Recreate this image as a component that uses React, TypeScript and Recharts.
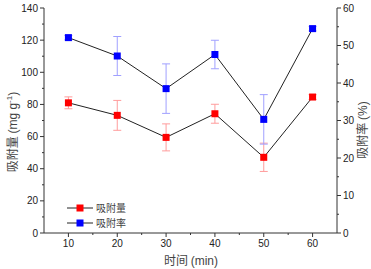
import { ComposedChart, Line, XAxis, YAxis, ErrorBar, Legend, Label } from 'recharts'

const times = [10, 20, 30, 40, 50, 60]
const capacity = [81, 73.2, 59.5, 74.2, 47.1, 84.6]
const capacityErr = [3.7, 9.3, 8.4, 5.9, 8.8, 1.5]
const rate = [52.1, 47.2, 38.5, 47.6, 30.3, 54.5]
const rateErr = [0.6, 5.2, 6.6, 3.8, 6.6, 0.6]

const xTicks = [15, 10, 20, 25, 30, 35, 40, 45, 50, 55, 60]
const leftTicks = [0, 10, 20, 30, 40, 50, 60, 70, 80, 90, 100, 110, 120, 130, 140]
const rightTicks = [0, 5, 10, 15, 20, 25, 30, 35, 40, 45, 50, 55, 60]

const data = times.map((t, i) => ({
  t,
  capacity: capacity[i],
  capacityErr: capacityErr[i],
  rate: rate[i],
  rateErr: rateErr[i],
}))

const AXIS = '#333'
const NUM_FONT = '"Liberation Sans", Arial, sans-serif'
const CJK_FONT = '"Noto Sans CJK SC", "Liberation Sans", sans-serif'

const XTick = (props: any) => {
  const { x, y, payload } = props
  const major = payload.value % 10 === 0
  return (
    <g>
      <line x1={x} x2={x} y1={y} y2={y + (major ? 4 : 2)} stroke={AXIS} />
      {major && (
        <text x={x} y={y + 14} textAnchor="middle" fontSize={10} fill="#222" fontFamily={NUM_FONT}>
          {payload.value}
        </text>
      )}
    </g>
  )
}

const LeftTick = (props: any) => {
  const { x, y, payload } = props
  const major = payload.value % 20 === 0
  return (
    <g>
      <line x1={x - (major ? 4 : 2)} x2={x} y1={y} y2={y} stroke={AXIS} />
      {major && (
        <text x={x - 6} y={y + 3.5} textAnchor="end" fontSize={10} fill="#222" fontFamily={NUM_FONT}>
          {payload.value}
        </text>
      )}
    </g>
  )
}

const RightTick = (props: any) => {
  const { x, y, payload } = props
  const major = payload.value % 10 === 0
  return (
    <g>
      <line x1={x} x2={x + (major ? 4 : 2)} y1={y} y2={y} stroke={AXIS} />
      {major && (
        <text x={x + 6} y={y + 3.5} textAnchor="start" fontSize={10} fill="#222" fontFamily={NUM_FONT}>
          {payload.value}
        </text>
      )}
    </g>
  )
}

const squareDot = (color: string) => (p: any) => (
  <rect key={p.index} x={p.cx - 3.5} y={p.cy - 3.5} width={7} height={7} fill={color} />
)

// legend rows sit at about y=208 and y=223 in the page
const LegendBox = () => (
  <svg width={80} height={32}>
    <line x1={7} x2={33} y1={8} y2={8} stroke="#222" />
    <rect x={16.5} y={4.5} width={7} height={7} fill="#ff0000" />
    <text x={36} y={11.5} fontSize={10} fill="#444" fontFamily={CJK_FONT}>吸附量</text>
    <line x1={7} x2={33} y1={23} y2={23} stroke="#222" />
    <rect x={16.5} y={19.5} width={7} height={7} fill="#0000ff" />
    <text x={36} y={26.5} fontSize={10} fill="#444" fontFamily={CJK_FONT}>吸附率</text>
  </svg>
)

export default function App() {
  return (
    <div style={{ position: 'absolute', left: 0, top: 0, width: 371, height: 269, background: '#fff' }}>
      <ComposedChart width={371} height={269} data={data} margin={{ top: 8, right: 0, bottom: 0, left: 0 }}>
        <XAxis
          dataKey="t"
          type="number"
          domain={[5, 65]}
          ticks={xTicks}
          interval={0}
          tickSize={0}
          tickMargin={0}
          tickLine={false}
          tick={<XTick />}
          axisLine={{ stroke: AXIS }}
          height={36}
        >
          <Label
            content={() => (
              <text x={191} y={265} textAnchor="middle" fontSize={12} fill="#444" fontFamily={CJK_FONT}>
                时间 <tspan fontFamily={NUM_FONT}>(min)</tspan>
              </text>
            )}
          />
        </XAxis>
        <YAxis
          yAxisId="left"
          type="number"
          domain={[0, 140]}
          ticks={leftTicks}
          interval={0}
          tickSize={0}
          tickMargin={0}
          tickLine={false}
          tick={<LeftTick />}
          axisLine={{ stroke: AXIS }}
          width={44}
        >
          <Label
            content={() => (
              <text
                x={13}
                y={132}
                dy="0.35em"
                transform="rotate(-90 13 132)"
                textAnchor="middle"
                fontSize={12}
                fill="#444"
                fontFamily={CJK_FONT}
              >
                吸附量 <tspan fontFamily={NUM_FONT}>(mg g</tspan>
                <tspan fontFamily={NUM_FONT} fontSize={8} dy={-5}>-1</tspan>
                <tspan fontFamily={NUM_FONT} dy={5}>)</tspan>
              </text>
            )}
          />
        </YAxis>
        <YAxis
          yAxisId="right"
          orientation="right"
          type="number"
          domain={[0, 60]}
          ticks={rightTicks}
          interval={0}
          tickSize={0}
          tickMargin={0}
          tickLine={false}
          tick={<RightTick />}
          axisLine={{ stroke: AXIS }}
          width={34}
        >
          <Label
            content={() => (
              <text
                x={363}
                y={130}
                dy="0.35em"
                transform="rotate(-90 363 130)"
                textAnchor="middle"
                fontSize={12}
                fill="#444"
                fontFamily={CJK_FONT}
              >
                吸附率 <tspan fontFamily={NUM_FONT}>(%)</tspan>
              </text>
            )}
          />
        </YAxis>
        <Legend
          layout="vertical"
          align="center"
          verticalAlign="middle"
          content={<LegendBox />}
          wrapperStyle={{ left: 60, top: 200, width: 80, height: 32 }}
        />
        <Line
          yAxisId="left"
          dataKey="capacity"
          stroke="#222"
          strokeWidth={1}
          dot={squareDot('#ff0000')}
          activeDot={false}
          isAnimationActive={false}
        >
          <ErrorBar dataKey="capacityErr" width={4} stroke="#ff9c9c" strokeWidth={1} direction="y" />
        </Line>
        <Line
          yAxisId="right"
          dataKey="rate"
          stroke="#222"
          strokeWidth={1}
          dot={squareDot('#0000ff')}
          activeDot={false}
          isAnimationActive={false}
        >
          <ErrorBar dataKey="rateErr" width={4} stroke="#a0a0ff" strokeWidth={1} direction="y" />
        </Line>
      </ComposedChart>
    </div>
  )
}
